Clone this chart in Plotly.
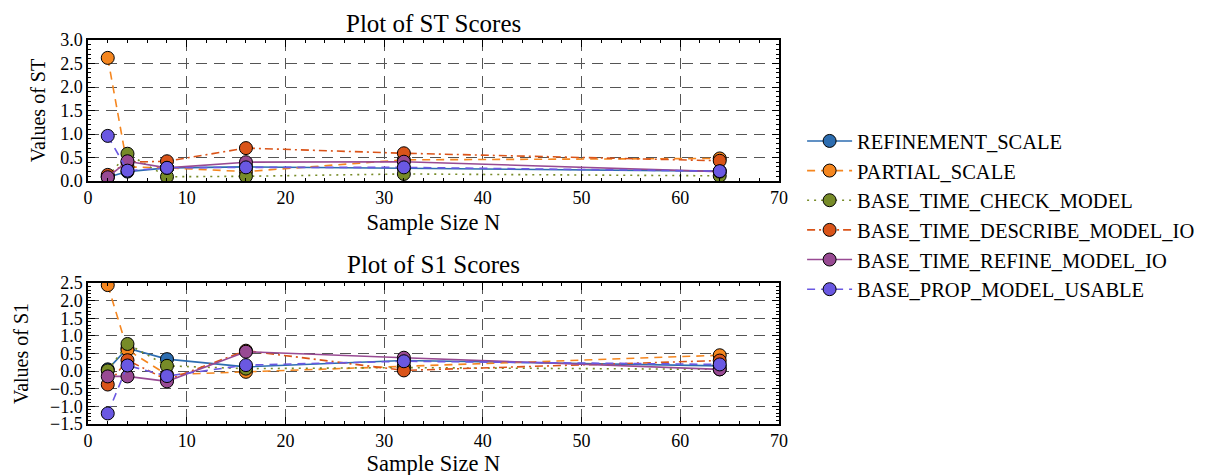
import plotly.graph_objects as go
from plotly.subplots import make_subplots

N = [2, 4, 8, 16, 32, 64]
names = ["REFINEMENT_SCALE", "PARTIAL_SCALE", "BASE_TIME_CHECK_MODEL",
         "BASE_TIME_DESCRIBE_MODEL_IO", "BASE_TIME_REFINE_MODEL_IO", "BASE_PROP_MODEL_USABLE"]

st_refinement = [0.08, 0.20, 0.28, 0.30, 0.27, 0.21]
st_partial = [2.62, 0.30, 0.28, 0.20, 0.45, 0.48]
st_check = [0.10, 0.58, 0.09, 0.10, 0.15, 0.11]
st_describe = [0.13, 0.40, 0.42, 0.70, 0.59, 0.43]
st_refine_model = [0.08, 0.42, 0.28, 0.40, 0.41, 0.20]
st_prop = [0.96, 0.22, 0.28, 0.29, 0.29, 0.21]

s1_refinement = [0.05, 0.65, 0.34, 0.12, 0.30, 0.15]
s1_partial = [2.44, 0.60, -0.10, -0.02, 0.15, 0.45]
s1_check = [0.02, 0.77, 0.15, 0.07, 0.10, 0.05]
s1_describe = [-0.38, 0.31, -0.25, 0.58, 0.02, 0.30]
s1_refine_model = [-0.15, -0.15, -0.29, 0.55, 0.38, 0.05]
s1_prop = [-1.20, 0.16, -0.14, 0.17, 0.28, 0.19]

st_all = [st_refinement, st_partial, st_check, st_describe, st_refine_model, st_prop]
s1_all = [s1_refinement, s1_partial, s1_check, s1_describe, s1_refine_model, s1_prop]

colors = ["#2d6db0", "#f5861f", "#778b28", "#da5419", "#984a93", "#6a58e2"]
dashes = ["solid", "8px,6px", "2px,5px", "8px,4px,2px,4px", "solid", "8px,6px"]

FONT = "Liberation Serif"

fig = make_subplots(rows=2, cols=1)

for i, nm in enumerate(names):
    fig.add_trace(go.Scatter(
        x=N, y=st_all[i], name=nm, mode="lines+markers",
        line=dict(color=colors[i], dash=dashes[i], width=1.6),
        marker=dict(size=13, color=colors[i], line=dict(color="black", width=1)),
        legendgroup=nm, showlegend=True), row=1, col=1)
for i, nm in enumerate(names):
    fig.add_trace(go.Scatter(
        x=N, y=s1_all[i], name=nm, mode="lines+markers",
        line=dict(color=colors[i], dash=dashes[i], width=1.6),
        marker=dict(size=13, color=colors[i], line=dict(color="black", width=1)),
        legendgroup=nm, showlegend=False), row=2, col=1)

axcommon = dict(showline=True, linecolor="black", linewidth=1.5, mirror="allticks",
                ticks="inside", ticklen=7, tickcolor="black", tickwidth=1, automargin=False,
                showgrid=True, gridcolor="#555555", griddash="11px,7px", gridwidth=1,
                zeroline=False, tickfont=dict(family=FONT, size=18, color="black"))

fig.update_xaxes(range=[0, 70], dtick=10, **axcommon,
                 minor=dict(ticks="inside", ticklen=3, dtick=2, tickcolor="black", showgrid=False))
fig.update_xaxes(title=dict(text="Sample Size N", font=dict(family=FONT, size=22.5, color="black"), standoff=7),
                 row=1, col=1)
fig.update_xaxes(title=dict(text="Sample Size N", font=dict(family=FONT, size=22.5, color="black"), standoff=2),
                 row=2, col=1)
fig.update_yaxes(**axcommon)
fig.update_yaxes(range=[0, 3.0], dtick=0.5, tickformat=".1f",
                 minor=dict(ticks="inside", ticklen=3, dtick=0.1, tickcolor="black", showgrid=False),
                 title=dict(text="Values of ST", font=dict(family=FONT, size=20, color="black"), standoff=9),
                 row=1, col=1)
fig.update_yaxes(range=[-1.5, 2.5], dtick=0.5, tickformat=".1f",
                 minor=dict(ticks="inside", ticklen=3, dtick=0.1, tickcolor="black", showgrid=False),
                 title=dict(text="Values of S1", font=dict(family=FONT, size=20, color="black"), standoff=16),
                 row=2, col=1)

fig.update_layout(
    width=1205, height=475,
    margin=dict(l=0, r=0, t=0, b=0),
    paper_bgcolor="white", plot_bgcolor="white",
    font=dict(family=FONT, size=18, color="black"),
    xaxis=dict(domain=[0.0664, 0.6398]),
    xaxis2=dict(domain=[0.0664, 0.6398]),
    yaxis=dict(domain=[0.6358, 0.9326]),
    yaxis2=dict(domain=[0.1242, 0.4211]),
    legend=dict(x=0.659, y=0.564, xanchor="left", yanchor="middle",
                font=dict(family=FONT, size=20.5, color="black"),
                bgcolor="rgba(0,0,0,0)", itemwidth=45, tracegroupgap=0),
    annotations=[
        dict(text="Plot of ST Scores", x=0.353, y=0.9326, xref="paper", yref="paper",
             xanchor="center", yanchor="bottom", showarrow=False, yshift=1,
             font=dict(family=FONT, size=25, color="black")),
        dict(text="Plot of S1 Scores", x=0.353, y=0.4211, xref="paper", yref="paper",
             xanchor="center", yanchor="bottom", showarrow=False, yshift=3,
             font=dict(family=FONT, size=25, color="black")),
    ],
)

fig.write_html("out.html")
